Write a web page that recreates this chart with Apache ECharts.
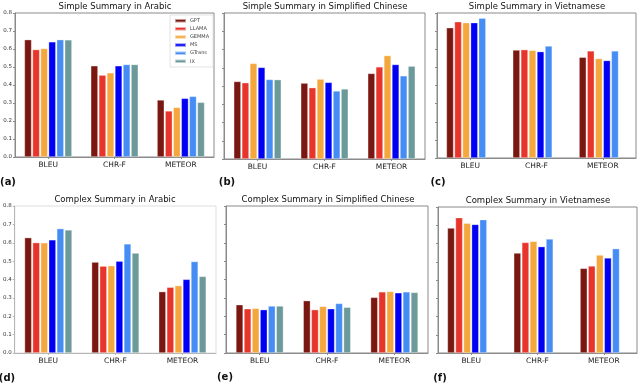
<!DOCTYPE html>
<html>
<head>
<meta charset="utf-8">
<script src="https://cdn.jsdelivr.net/npm/echarts@6/dist/echarts.min.js"></script>
<style>
  html, body { margin: 0; padding: 0; background: #fff; }
  #chart { width: 640px; height: 385px; }
</style>
</head>
<body>
<div id="chart"></div>
<script>
// categories and model names
const categories = ['BLEU', 'CHR-F', 'METEOR'];
const models = ['GPT', 'LLAMA', 'GEMMA', 'MS', 'GTrans', 'IX'];
const modelColors = ['#7b1711', '#e8352b', '#f4a73c', '#0000f5', '#468cf5', '#6c9a9a'];

// values per panel, one row per model (BLEU, CHR-F, METEOR)
const simpleArabic = [
  [0.652, 0.507, 0.317],
  [0.597, 0.455, 0.256],
  [0.603, 0.468, 0.276],
  [0.640, 0.507, 0.326],
  [0.652, 0.514, 0.337],
  [0.651, 0.514, 0.304]
];
const simpleChinese = [
  [0.425, 0.416, 0.469],
  [0.418, 0.391, 0.505],
  [0.524, 0.438, 0.567],
  [0.502, 0.420, 0.518],
  [0.436, 0.373, 0.456],
  [0.435, 0.384, 0.509]
];
// no IX results for Vietnamese
const simpleVietnamese = [
  [0.719, 0.596, 0.556],
  [0.752, 0.598, 0.591],
  [0.747, 0.594, 0.549],
  [0.747, 0.587, 0.538],
  [0.772, 0.618, 0.591]
];
const complexArabic = [
  [0.628, 0.495, 0.334],
  [0.601, 0.473, 0.358],
  [0.600, 0.475, 0.367],
  [0.616, 0.500, 0.401],
  [0.677, 0.594, 0.498],
  [0.670, 0.544, 0.417]
];
const complexChinese = [
  [0.263, 0.285, 0.303],
  [0.241, 0.236, 0.333],
  [0.243, 0.254, 0.335],
  [0.236, 0.241, 0.328],
  [0.256, 0.270, 0.333],
  [0.256, 0.249, 0.330]
];
const complexVietnamese = [
  [0.685, 0.548, 0.464],
  [0.742, 0.606, 0.477],
  [0.711, 0.612, 0.537],
  [0.705, 0.583, 0.521],
  [0.731, 0.625, 0.572]
];
const yTicks = [0, 0.8, 0.1]; // min, max, step

// panel layout
const panels = [
  { title: 'Simple Summary in Arabic', tag: '(a)', data: simpleArabic, box: [15, 13, 199, 144], labels: true, frame: '#8a8a8a', tx: 115, ty: 7, lx: 8, ly: 182 },
  { title: 'Simple Summary in Simplified Chinese', tag: '(b)', data: simpleChinese, box: [224, 13, 201, 146], labels: false, frame: '#8a8a8a', tx: 325, ty: 7, lx: 227, ly: 182 },
  { title: 'Simple Summary in Vietnamese', tag: '(c)', data: simpleVietnamese, box: [437, 13, 199, 145], labels: false, frame: '#8a8a8a', tx: 537, ty: 7, lx: 438, ly: 182 },
  { title: 'Complex Summary in Arabic', tag: '(d)', data: complexArabic, box: [14, 206, 202, 147], labels: true, frame: '#dedede', tx: 115, ty: 200, lx: 7, ly: 378 },
  { title: 'Complex Summary in Simplified Chinese', tag: '(e)', data: complexChinese, box: [226, 206, 202, 147], labels: false, frame: '#8a8a8a', tx: 328, ty: 200, lx: 225, ly: 377 },
  { title: 'Complex Summary in Vietnamese', tag: '(f)', data: complexVietnamese, box: [438, 207, 199, 146], labels: false, frame: '#8a8a8a', tx: 538, ty: 201, lx: 440, ly: 378 }
];

const chart = echarts.init(document.getElementById('chart'));

const grids = [], xAxes = [], yAxes = [], series = [], texts = [];
panels.forEach((p, i) => {
  const axisColor = i === 3 ? '#b5b5b5' : '#8a8a8a';
  grids.push({
    left: p.box[0], top: p.box[1], width: p.box[2], height: p.box[3],
    show: true, borderColor: p.frame, borderWidth: 1, backgroundColor: 'transparent'
  });
  xAxes.push({
    type: 'category', gridIndex: i, data: categories,
    axisLine: { lineStyle: { color: axisColor, width: 1 } },
    axisTick: { show: true, alignWithLabel: true, length: 2, lineStyle: { color: axisColor } },
    axisLabel: { fontFamily: 'DejaVu Sans', fontSize: 7.5, color: '#222', margin: 4 },
    splitLine: { show: false }
  });
  yAxes.push({
    type: 'value', gridIndex: i, min: yTicks[0], max: yTicks[1], interval: yTicks[2],
    axisLine: { show: true, lineStyle: { color: axisColor, width: 1 } },
    axisTick: { show: true, length: 2, lineStyle: { color: axisColor } },
    axisLabel: {
      show: p.labels, fontFamily: 'DejaVu Sans', fontSize: 5.5, color: '#333', margin: 3,
      formatter: v => v.toFixed(1)
    },
    splitLine: { show: false }
  });
  models.forEach((m, k) => {
    const row = p.data[k];
    series.push({
      type: 'bar', name: m, xAxisIndex: i, yAxisIndex: i,
      data: row ? row : [null, null, null],
      barWidth: 7.2, barGap: '12%',
      itemStyle: { color: modelColors[k], borderColor: 'rgba(255,255,255,0.55)', borderWidth: 0.6 },
      emphasis: { disabled: true }
    });
  });
  texts.push({
    type: 'text', x: p.tx, y: p.ty,
    style: { text: p.title, fontFamily: 'DejaVu Sans', fontSize: 8.5, fill: '#111', align: 'center', verticalAlign: 'middle' }
  });
  texts.push({
    type: 'text', x: p.lx, y: p.ly,
    style: { text: p.tag, fontFamily: 'DejaVu Sans', fontSize: 10, fontWeight: 'bold', fill: '#111', align: 'center', verticalAlign: 'middle' }
  });
});

chart.setOption({
  animation: false,
  grid: grids,
  xAxis: xAxes,
  yAxis: yAxes,
  series: series,
  legend: {
    data: models, orient: 'vertical', left: 170, top: 15,
    itemWidth: 11, itemHeight: 3.5, itemGap: 2.6, icon: 'rect',
    padding: [3, 4, 3, 4], borderColor: '#d0d0d0', borderWidth: 0.6, backgroundColor: '#fff',
    textStyle: { fontFamily: 'DejaVu Sans', fontSize: 5, color: '#444', padding: [0, 0, 0, -1] },
    selectedMode: false
  },
  graphic: texts
});
</script>
</body>
</html>
